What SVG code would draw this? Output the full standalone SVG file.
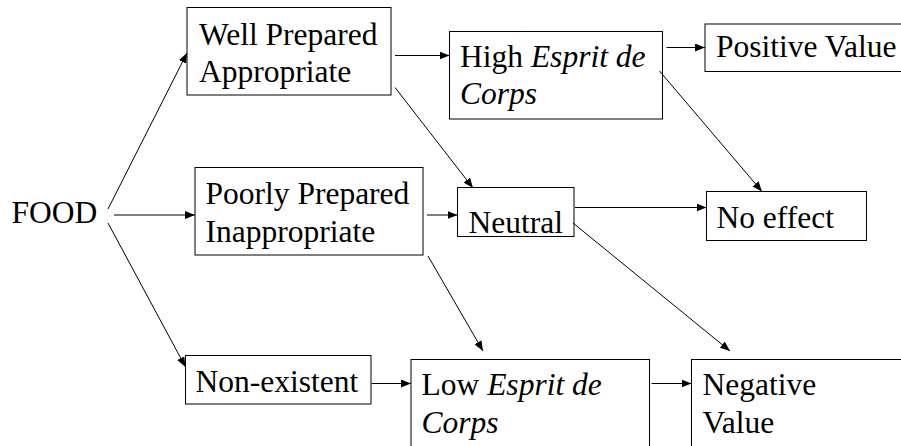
<svg xmlns="http://www.w3.org/2000/svg" width="901" height="446" viewBox="0 0 901 446">
<style>
.box{fill:#fff;stroke:#000;stroke-width:1}
.t{font-size:31.5px;fill:#000}
.it{font-style:italic}
.c line{stroke:#000;stroke-width:1;marker-end:url(#ah)}
</style>
<defs>
<marker id="ah" viewBox="0 0 10 8" refX="10" refY="4" markerWidth="10" markerHeight="8" markerUnits="userSpaceOnUse" orient="auto">
<path d="M0,0 L10,4 L0,8 Z" fill="#000"/>
</marker>
</defs>
<rect width="901" height="446" fill="#fff"/>
<g class="t" font-family="'Liberation Serif', 'DejaVu Serif', serif">
<g id="food"><text x="11.5" y="222.5">FOOD</text></g>
<g id="well"><rect class="box" x="187" y="7.5" width="204" height="87.5"/><text x="199" y="45">Well Prepared</text><text x="199" y="82">Appropriate</text></g>
<g id="poorly"><rect class="box" x="195" y="167.5" width="228" height="87.5"/><text x="205.5" y="203.5">Poorly Prepared</text><text x="205.5" y="241.5">Inappropriate</text></g>
<g id="nonexistent"><rect class="box" x="185.5" y="355.5" width="185.5" height="48.5"/><text x="195.5" y="391.5">Non-existent</text></g>
<g id="high"><rect class="box" x="449.5" y="31.5" width="213" height="87.5"/><text x="460" y="66.5">High <tspan class="it">Esprit de</tspan></text><text class="it" x="460" y="104">Corps</text></g>
<g id="neutral"><rect class="box" x="457.5" y="187.5" width="116.5" height="49"/><text x="468.5" y="232.5">Neutral</text></g>
<g id="low"><rect class="box" x="411" y="359.5" width="238.5" height="100"/><text x="421.5" y="395">Low <tspan class="it">Esprit de</tspan></text><text class="it" x="421.5" y="432.5">Corps</text></g>
<g id="positive"><rect class="box" x="705" y="24" width="210" height="47.5"/><text x="716" y="57">Positive Value</text></g>
<g id="noeffect"><rect class="box" x="706.5" y="191.5" width="160" height="49"/><text x="716.5" y="227.5">No effect</text></g>
<g id="negative"><rect class="box" x="691.5" y="359.5" width="220" height="100"/><text x="702.5" y="395">Negative</text><text x="702.5" y="432.5">Value</text></g>
</g>
<g id="connectors" class="c">
<line x1="108" y1="209" x2="187" y2="53"/>
<line x1="114" y1="215" x2="195" y2="215"/>
<line x1="108" y1="223" x2="185.5" y2="367"/>
<line x1="395" y1="55.5" x2="449.5" y2="55.5"/>
<line x1="395" y1="87.5" x2="473" y2="188"/>
<line x1="427" y1="215" x2="457.5" y2="215"/>
<line x1="428" y1="256" x2="483" y2="351"/>
<line x1="371.5" y1="383.5" x2="411" y2="383.5"/>
<line x1="666.5" y1="47.5" x2="705" y2="47.5"/>
<line x1="659.5" y1="71" x2="762" y2="191.5"/>
<line x1="575" y1="207.5" x2="706.5" y2="207.5"/>
<line x1="573" y1="223" x2="730" y2="351"/>
<line x1="651.5" y1="383.5" x2="691.5" y2="383.5"/>
</g>
</svg>
